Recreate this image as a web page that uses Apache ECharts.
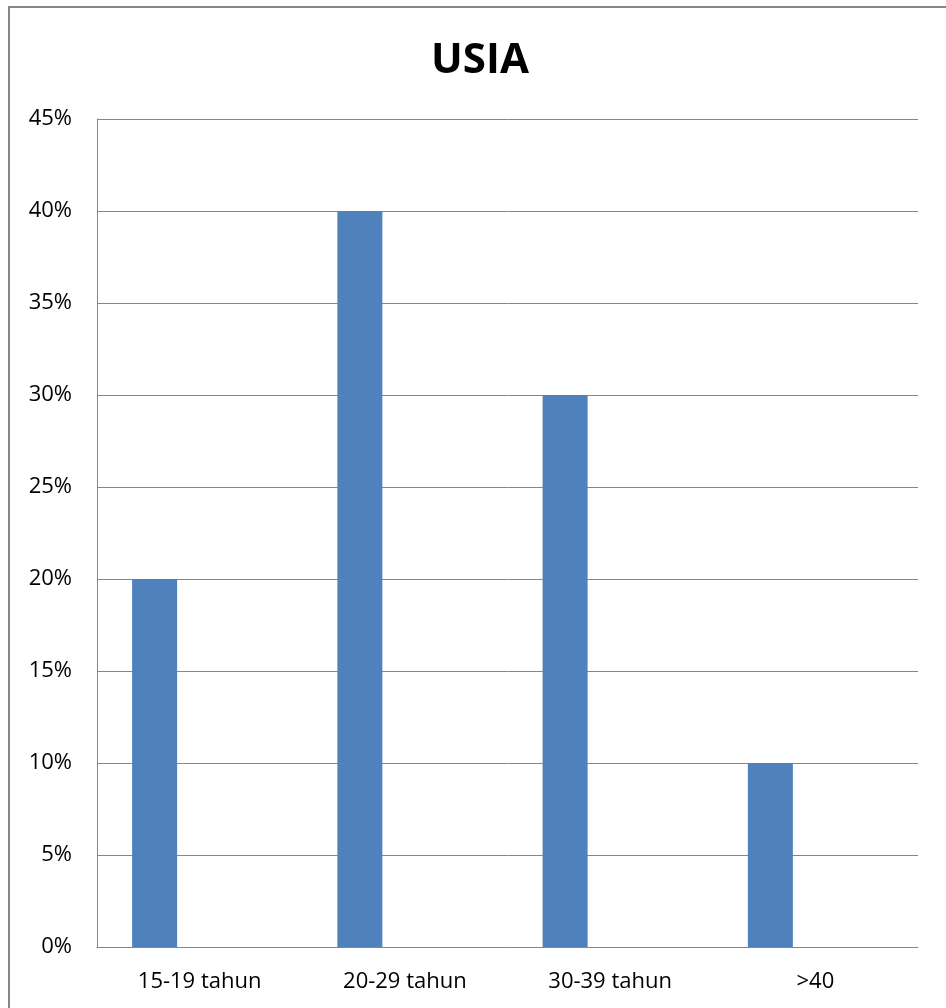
<!DOCTYPE html>
<html>
<head>
<meta charset="utf-8">
<script src="https://cdn.jsdelivr.net/npm/echarts@6/dist/echarts.min.js"></script>
<style>
html,body{margin:0;padding:0;background:#fff;}
#main{width:946px;height:1008px;}
</style>
</head>
<body>
<div id="main"></div>
<script>
const categories = ['15-19 tahun', '20-29 tahun', '30-39 tahun', '>40'];
const usiaValues = [20, 40, 30, 10];
const emptySeries2 = [null, null, null, null];
const emptySeries3 = [null, null, null, null];
const yTicks = { min: 0, max: 45, interval: 5 };

const chart = echarts.init(document.getElementById('main'));
const font = '"Open Sans", Lato, sans-serif';
chart.setOption({
  animation: false,
  backgroundColor: '#fff',
  title: {
    text: 'USIA',
    left: 475,
    textAlign: 'center',
    top: 35,
    textStyle: { fontFamily: '"Open Sans", Lato, sans-serif', fontWeight: 'bold', fontSize: 42, color: '#000' }
  },
  graphic: [{
    type: 'rect',
    shape: { x: 9, y: 7, width: 960, height: 1030 },
    style: { fill: 'none', stroke: '#868686', lineWidth: 2 },
    silent: true
  }],
  grid: { left: 97, right: 28, top: 119, bottom: 61 },
  xAxis: {
    type: 'category',
    data: categories,
    axisLine: { lineStyle: { color: '#868686', width: 1 } },
    axisTick: { show: false },
    axisLabel: { color: '#000', fontSize: 22, fontFamily: font, margin: 24 }
  },
  yAxis: {
    type: 'value',
    min: yTicks.min, max: yTicks.max, interval: yTicks.interval,
    axisLine: { show: true, lineStyle: { color: '#868686', width: 1 } },
    axisTick: { show: false },
    splitLine: { lineStyle: { color: '#868686', width: 1 } },
    axisLabel: { color: '#000', fontSize: 22, fontFamily: font, margin: 25, formatter: '{value}%' }
  },
  series: [
    { type: 'bar', data: usiaValues, barGap: '0%', barCategoryGap: '34.2%', itemStyle: { color: '#4F81BD' } },
    { type: 'bar', data: emptySeries2, itemStyle: { color: '#C0504D' } },
    { type: 'bar', data: emptySeries3, itemStyle: { color: '#9BBB59' } }
  ]
});
</script>
</body>
</html>
